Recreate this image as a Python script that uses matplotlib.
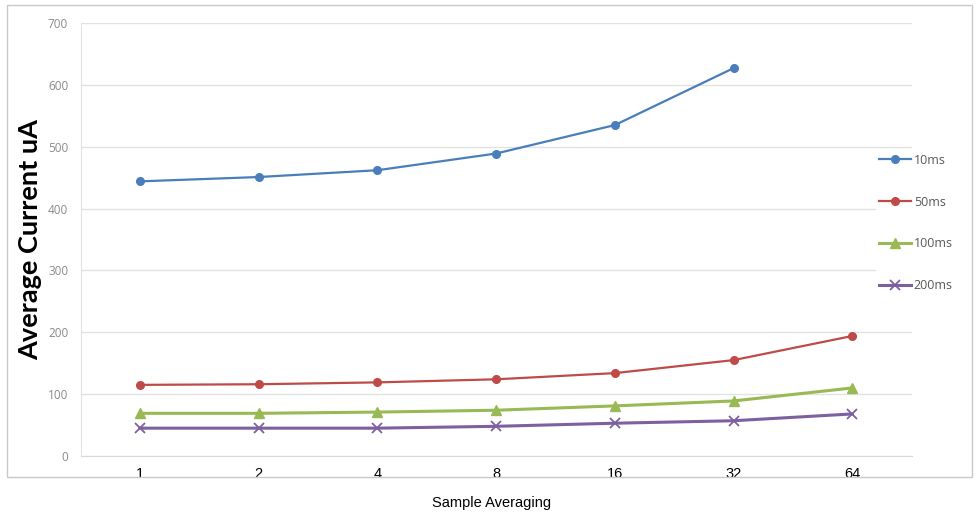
import matplotlib
matplotlib.use('Agg')
import matplotlib.pyplot as plt
from matplotlib.patches import Rectangle

# Sample averaging categories and average current (uA) per sampling interval
categories = ['1', '2', '4', '8', '16', '32', '64']
current_10ms = [444, 451, 462, 489, 535, 627]
current_50ms = [115, 116, 119, 124, 134, 155, 194]
current_100ms = [69, 69, 71, 74, 81, 89, 110]
current_200ms = [45, 45, 45, 48, 53, 57, 68]
y_ticks = [0, 100, 200, 300, 400, 500, 600, 700]

fig = plt.figure(figsize=(9.78, 5.16), dpi=100)
W, H = 978, 516
ax = fig.add_axes([80.7 / W, 1 - 456 / H, (911.6 - 80.7) / W, (456 - 23) / H])

x = list(range(len(categories)))
ax.plot(x[:len(current_10ms)], current_10ms, color='#4a7ebb', lw=1.6,
        marker='o', ms=5.5, label='10ms')
ax.plot(x, current_50ms, color='#be4b48', lw=1.6,
        marker='o', ms=5.5, label='50ms')
ax.plot(x, current_100ms, color='#98b954', lw=2.2,
        marker='^', ms=7, label='100ms')
ax.plot(x, current_200ms, color='#7d60a0', lw=2.2,
        marker='x', ms=7, mew=1.3, label='200ms')

ax.set_xlim(-0.5, len(categories) - 0.5)
ax.set_ylim(0, 700)
ax.set_xticks(x)
ax.set_xticklabels(categories, fontsize=10.5, family='Liberation Sans', color='black')
ax.set_yticks(y_ticks)
ax.set_yticklabels([str(v) for v in y_ticks], fontsize=8.5, family='Open Sans', color='#8a8a8a')
ax.tick_params(axis='x', length=0, pad=8)
ax.tick_params(axis='y', length=0, pad=9)
ax.grid(axis='y', color='#e2e2e2', lw=1)
ax.set_axisbelow(True)
for side in ['top', 'right']:
    ax.spines[side].set_visible(False)
ax.spines['left'].set_color('#e2e2e2')
ax.spines['bottom'].set_color('#d9d9d9')

ax.set_ylabel('Average Current uA', fontsize=19.5, fontweight='bold', family='Lato', labelpad=4)
fig.text(492 / W, 1 - 503 / H, 'Sample Averaging', ha='center', va='center',
         fontsize=10.5, family='Liberation Sans')

leg = fig.legend(loc='upper left', bbox_to_anchor=(870 / W, 1 - 145 / H),
                 frameon=True, edgecolor='none', facecolor='white', framealpha=1,
                 fontsize=9, handlelength=2.6, labelspacing=2.3, borderpad=0.2,
                 handletextpad=0.2)
for t in leg.get_texts():
    t.set_color('#595959')
    t.set_family('Open Sans')

# light outer chart border
fig.patches.append(Rectangle((7 / W, 1 - 477 / H), (972 - 7) / W, (477 - 5) / H,
                             transform=fig.transFigure, fill=False,
                             edgecolor='#c8c8c8', lw=1))

fig.savefig('out.png', dpi=100)
